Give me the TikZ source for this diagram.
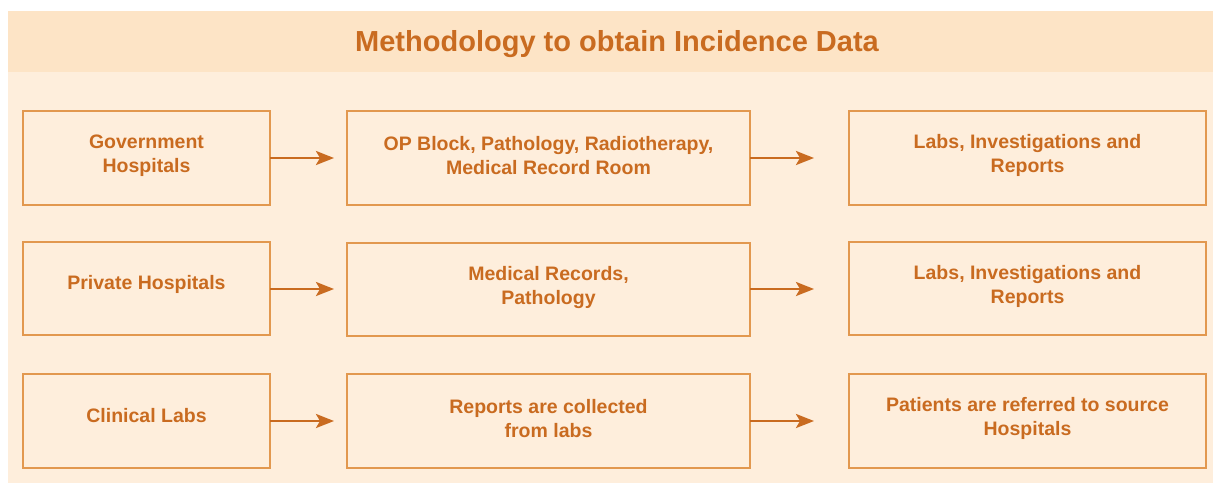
\documentclass[tikz,border=0pt]{standalone}
\usepackage{fontspec}
\setmainfont{Liberation Sans}
\usetikzlibrary{arrows.meta}
\definecolor{bgpanel}{HTML}{FEEEDC}
\definecolor{bgtitle}{HTML}{FDE4C6}
\definecolor{boxline}{HTML}{E2984F}
\definecolor{txt}{HTML}{C96B20}
\tikzset{
  procbox/.style={draw=boxline, line width=1.4pt, fill=bgpanel, inner sep=0pt},
  lbl/.style={text=txt, font=\fontsize{19.5}{24}\selectfont\bfseries, align=center, inner sep=0pt},
  flow/.style={draw=txt, line width=2.6pt, -{Stealth[length=18pt,width=14pt,inset=4pt]}},
}
\begin{document}
\begin{tikzpicture}[x=1pt,y=-1pt]
\useasboundingbox (0,0) rectangle (1213,483);
\fill[white] (0,0) rectangle (1213,483);
\fill[bgpanel] (8,11) rectangle (1213,483);
\fill[bgtitle] (8,11) rectangle (1213,72);
\node[text=txt, font=\fontsize{29}{34}\selectfont\bfseries] (title) at (617,44.5) {Methodology to obtain Incidence Data};

% row 1
\draw[procbox] (23,111) rectangle (270,205) node[midway] (g1) {};
\draw[procbox] (347,111) rectangle (750,205) node[midway] (g2) {};
\draw[procbox] (849,111) rectangle (1206,205) node[midway] (g3) {};
% row 2
\draw[procbox] (23,242) rectangle (270,335) node[midway] (p1) {};
\draw[procbox] (347,243) rectangle (750,336) node[midway] (p2) {};
\draw[procbox] (849,242) rectangle (1206,335) node[midway] (p3) {};
% row 3
\draw[procbox] (23,374) rectangle (270,468) node[midway] (c1) {};
\draw[procbox] (347,374) rectangle (750,468) node[midway] (c2) {};
\draw[procbox] (849,374) rectangle (1206,468) node[midway] (c3) {};

\node[lbl] (g1t) at ([yshift=2.5pt]g1) {Government\\Hospitals};
\node[lbl] (g2t) at ([yshift=2.5pt]g2) {OP Block, Pathology, Radiotherapy,\\Medical Record Room};
\node[lbl] (g3t) at ([yshift=2.5pt]g3) {Labs, Investigations and\\Reports};
\node[lbl] (p1t) at ([yshift=4pt]p1) {Private Hospitals};
\node[lbl] (p2t) at ([yshift=2.5pt]p2) {Medical Records,\\Pathology};
\node[lbl] (p3t) at ([yshift=2.5pt]p3) {Labs, Investigations and\\Reports};
\node[lbl] (c1t) at ([yshift=5pt]c1) {Clinical Labs};
\node[lbl] (c2t) at ([yshift=2.5pt]c2) {Reports are collected\\from labs};
\node[lbl] (c3t) at ([yshift=2.5pt]c3) {Patients are referred to source\\Hospitals};

% arrow anchors
\coordinate (a1s) at (270,158); \coordinate (a1e) at (334,158);
\coordinate (a2s) at (750,158); \coordinate (a2e) at (814,158);
\coordinate (b1s) at (270,289); \coordinate (b1e) at (334,289);
\coordinate (b2s) at (750,289); \coordinate (b2e) at (814,289);
\coordinate (c1s) at (270,421); \coordinate (c1e) at (334,421);
\coordinate (c2s) at (750,421); \coordinate (c2e) at (814,421);
\draw[flow] (a1s) -- (a1e);
\draw[flow] (a2s) -- (a2e);
\draw[flow] (b1s) -- (b1e);
\draw[flow] (b2s) -- (b2e);
\draw[flow] (c1s) -- (c1e);
\draw[flow] (c2s) -- (c2e);
\end{tikzpicture}
\end{document}
